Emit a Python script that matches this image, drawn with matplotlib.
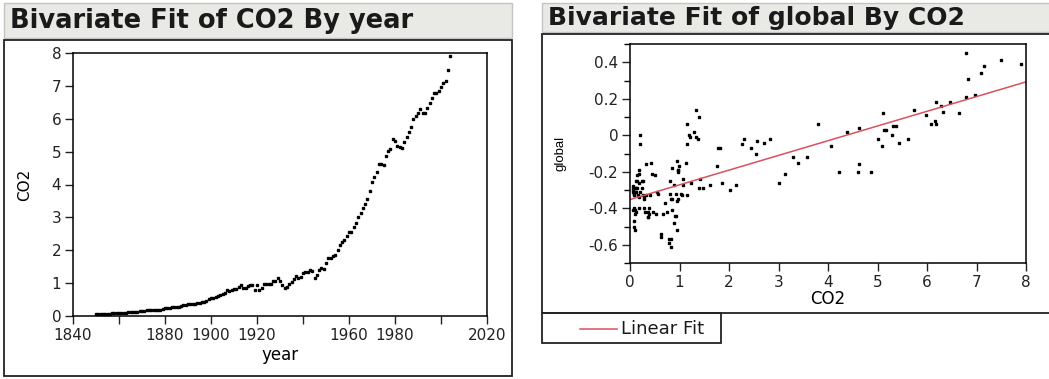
"""Two JMP-style bivariate panels: CO2 emissions by year, and global temperature by CO2."""
import matplotlib
matplotlib.use("Agg")
import matplotlib.pyplot as plt
import numpy as np
from matplotlib.patches import Rectangle
from matplotlib.ticker import MultipleLocator

W, H = 1049, 379

FIRST_YEAR = 1850
# carbon emissions per year, 1850-2004
CO2 = [
    0.054, 0.054, 0.057, 0.059, 0.069, 0.071, 0.076, 0.077, 0.078, 0.083,
    0.091, 0.094, 0.097, 0.104, 0.112, 0.119, 0.122, 0.130, 0.135, 0.142,
    0.147, 0.156, 0.173, 0.184, 0.174, 0.188, 0.191, 0.194, 0.196, 0.210,
    0.236, 0.243, 0.256, 0.272, 0.275, 0.277, 0.281, 0.295, 0.327, 0.327,
    0.356, 0.372, 0.374, 0.370, 0.383, 0.406, 0.419, 0.440, 0.465, 0.507,
    0.534, 0.552, 0.566, 0.617, 0.624, 0.663, 0.707, 0.784, 0.750, 0.785,
    0.819, 0.836, 0.879, 0.943, 0.850, 0.838, 0.901, 0.955, 0.936, 0.806,
    0.932, 0.803, 0.845, 0.970, 0.963, 0.975, 0.983, 1.062, 1.065, 1.145,
    1.053, 0.940, 0.847, 0.893, 0.973, 1.027, 1.130, 1.209, 1.142, 1.192,
    1.299, 1.334, 1.342, 1.391, 1.383, 1.160, 1.238, 1.392, 1.469, 1.419,
    1.62, 1.75, 1.77, 1.82, 1.85, 2.02, 2.15, 2.26, 2.31, 2.44,
    2.55, 2.57, 2.70, 2.83, 3.00, 3.13, 3.29, 3.40, 3.57, 3.79,
    4.07, 4.22, 4.39, 4.62, 4.63, 4.60, 4.87, 5.01, 5.09, 5.38,
    5.32, 5.17, 5.13, 5.11, 5.29, 5.44, 5.61, 5.74, 5.98, 6.08,
    6.18, 6.29, 6.18, 6.17, 6.32, 6.47, 6.64, 6.79, 6.79, 6.83,
    6.97, 7.10, 7.16, 7.49, 7.90,
]
# global temperature anomaly, same years
GLOBAL = [
    -0.41, -0.29, -0.28, -0.31, -0.30, -0.32, -0.40, -0.50, -0.47, -0.33,
    -0.41, -0.43, -0.52, -0.29, -0.42, -0.31, -0.25, -0.29, -0.25, -0.22,
    -0.29, -0.33, -0.21, -0.19, -0.40, -0.34, -0.26, -0.05, 0.00, -0.31,
    -0.25, -0.29, -0.25, -0.33, -0.40, -0.35, -0.34, -0.42, -0.33, -0.16,
    -0.45, -0.42, -0.43, -0.45, -0.40, -0.33, -0.15, -0.21, -0.42, -0.22,
    -0.43, -0.31, -0.32, -0.54, -0.56, -0.43, -0.37, -0.57, -0.42, -0.59,
    -0.61, -0.57, -0.48, -0.52, -0.41, -0.35, -0.44, -0.36, -0.44, -0.32,
    -0.32, -0.25, -0.35, -0.35, -0.20, -0.19, -0.17, -0.27, -0.24, -0.33,
    -0.33, -0.14, -0.18, -0.27, -0.19, -0.32, -0.15, -0.01, -0.05, 0.00,
    0.02, 0.14, -0.01, 0.10, -0.02, 0.06, -0.26, -0.29, -0.29, -0.24,
    -0.27, -0.17, -0.07, -0.07, -0.26, -0.30, -0.27, -0.05, -0.02, -0.07,
    -0.10, -0.03, -0.04, -0.02, -0.26, -0.21, -0.12, -0.15, -0.12, 0.06,
    -0.06, -0.20, 0.02, 0.04, -0.16, -0.20, -0.20, -0.02, -0.06, 0.05,
    0.05, 0.03, 0.03, 0.12, 0.00, -0.04, -0.02, 0.14, 0.11, 0.06,
    0.18, 0.16, 0.06, 0.08, 0.13, 0.18, 0.12, 0.21, 0.45, 0.31,
    0.22, 0.34, 0.38, 0.41, 0.39,
]

YEAR_TICKS = [1840, 1860, 1880, 1900, 1920, 1940, 1960, 1980, 2000, 2020]
YEAR_LABELS = ["1840", "", "1880", "1900", "1920", "", "1960", "1980", "", "2020"]

FONT = "DejaVu Sans"
FIT_COLOR = "#d9505f"


def box(x0, y0, x1, y1):
    """pixel box (top-left origin) -> figure rect"""
    return [x0 / W, 1 - y1 / H, (x1 - x0) / W, (y1 - y0) / H]


def header(fig, x0, y0, x1, y1, text, size):
    fig.patches.append(Rectangle((x0 / W, 1 - y1 / H), (x1 - x0) / W, (y1 - y0) / H,
                                 transform=fig.transFigure, facecolor="#e9e9e5",
                                 edgecolor="#c4c4c0", lw=1.0))
    fig.text((x0 + 6) / W, 1 - (y0 + y1) / 2 / H, text, fontsize=size,
             fontweight="bold", family=FONT, color="#1a1a1a", va="center")


def frame(fig, x0, y0, x1, y1):
    fig.patches.append(Rectangle((x0 / W, 1 - y1 / H), (x1 - x0) / W, (y1 - y0) / H,
                                 transform=fig.transFigure, facecolor="none",
                                 edgecolor="#222222", lw=1.3))


def style(ax):
    for s in ax.spines.values():
        s.set_linewidth(1.1)
    ax.tick_params(direction="out", length=6, width=1.0, labelsize=11,
                   colors="#222222", pad=2.5)
    ax.tick_params(which="minor", direction="out", length=4, width=1.0)
    for lab in ax.get_xticklabels() + ax.get_yticklabels():
        lab.set_family(FONT)


def main():
    years = np.arange(FIRST_YEAR, FIRST_YEAR + len(CO2))
    co2 = np.array(CO2)
    glob = np.array(GLOBAL)

    fig = plt.figure(figsize=(W / 100, H / 100), dpi=100)

    # left panel: CO2 by year
    header(fig, 4, 3, 512, 38, "Bivariate Fit of CO2 By year", 18.5)
    frame(fig, 4, 40, 512, 376)
    ax = fig.add_axes(box(73, 53, 487, 316))
    ax.plot(years, co2, ls="none", marker="s", ms=1.9, color="black")
    ax.set_xlim(1840, 2020)
    ax.set_ylim(0, 8)
    ax.set_xticks(YEAR_TICKS)
    ax.set_xticklabels(YEAR_LABELS)
    ax.set_yticks(range(0, 9))
    ax.set_xlabel("year", family=FONT, fontsize=12, labelpad=2)
    ax.set_ylabel("CO2", family=FONT, fontsize=11, labelpad=14)
    style(ax)

    # right panel: global by CO2 with linear fit
    header(fig, 542, 3, 1052, 32, "Bivariate Fit of global By CO2", 18)
    frame(fig, 542, 34, 1052, 313)
    frame(fig, 542, 313, 721, 343)
    bx = fig.add_axes(box(630, 44, 1026, 263))
    bx.plot(co2, glob, ls="none", marker="s", ms=1.9, color="black")
    slope, icpt = np.polyfit(co2, glob, 1)
    xs = np.array([0, 8])
    bx.plot(xs, icpt + slope * xs, color=FIT_COLOR, lw=1.1)
    bx.set_xlim(0, 8)
    bx.set_ylim(-0.7, 0.5)
    bx.set_xticks(range(0, 9))
    bx.set_yticks([-0.6, -0.4, -0.2, 0, 0.2, 0.4])
    bx.set_yticklabels(["-0.6", "-0.4", "-0.2", "0", "0.2", "0.4"])
    bx.yaxis.set_minor_locator(MultipleLocator(0.1))
    bx.set_xlabel("CO2", family=FONT, fontsize=12, labelpad=0)
    bx.set_ylabel("global", family="Liberation Sans", fontsize=9.5, labelpad=16)
    style(bx)

    fig.lines.append(plt.Line2D([580 / W, 617 / W], [1 - 329 / H, 1 - 329 / H],
                                transform=fig.transFigure, color=FIT_COLOR, lw=1.1))
    fig.text(621 / W, 1 - 329 / H, "Linear Fit", family=FONT, fontsize=13,
             va="center", color="#1a1a1a")

    fig.savefig("out.png", dpi=100)
    print(f"fit: {icpt:.3f} + {slope:.4f} x")


if __name__ == "__main__":
    main()
